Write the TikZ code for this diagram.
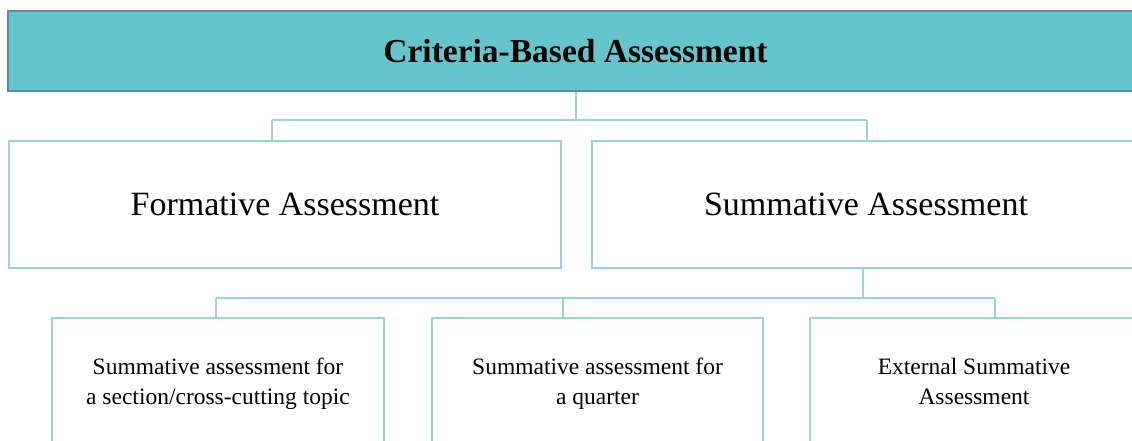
\documentclass[tikz,border=0pt]{standalone}
\usepackage{fontspec}
\setmainfont{Liberation Serif}
\definecolor{headfill}{HTML}{66C4CB}
\definecolor{headline}{HTML}{5A8CA6}
\definecolor{boxline}{HTML}{9CD3D8}
\begin{document}
\begin{tikzpicture}[x=1pt,y=-1pt,
  headbox/.style={draw=headline, line width=1.5pt, fill=headfill, minimum width=1135pt, minimum height=80pt, inner sep=0pt, font=\fontsize{33.5}{40}\selectfont\bfseries},
  midbox/.style={draw=boxline, line width=1.8pt, fill=white, minimum height=127pt, inner sep=0pt, font=\fontsize{34}{40}\selectfont},
  lowbox/.style={draw=boxline, line width=1.8pt, fill=white, minimum height=131pt, inner sep=0pt, align=center, font=\fontsize{23.5}{30}\selectfont},
  conn/.style={draw=boxline, line width=1.8pt}]
\useasboundingbox (0,0) rectangle (1132,441);
\clip (0,0) rectangle (1132,441);
\fill[white] (0,0) rectangle (1132,441);
% nodes
\node[headbox] (header) at (575.5,51) {Criteria-Based Assessment};
\node[midbox, minimum width=552pt] (form) at (285,204.5) {Formative Assessment};
\node[midbox, minimum width=548pt] (summ) at (866,204.5) {Summative Assessment};
\node[lowbox, minimum width=332pt] (low1) at (218,383.5) {\strut Summative assessment for\\\strut a section/cross-cutting topic};
\node[lowbox, minimum width=331pt] (low2) at (597.5,383.5) {\strut Summative assessment for\\\strut a quarter};
\node[lowbox, minimum width=328pt] (low3) at (974,383.5) {\strut External Summative\\\strut Assessment};
% upper connectors
\coordinate (j0) at (576,120);
\coordinate (t1) at (272,120);
\coordinate (t2) at (867,120);
\draw[conn] (header.south -| j0) -- (j0);
\draw[conn] (t1) -- (t2);
\draw[conn] (t1) -- (t1 |- form.north);
\draw[conn] (t2) -- (t2 |- summ.north);
% lower connectors
\coordinate (k0) at (863,298);
\coordinate (k1) at (216,298);
\coordinate (k2) at (563,298);
\coordinate (k3) at (995,298);
\draw[conn] (summ.south -| k0) -- (k0);
\draw[conn] (k1) -- (k3);
\draw[conn] (k1) -- (k1 |- low1.north);
\draw[conn] (k2) -- (k2 |- low2.north);
\draw[conn] (k3) -- (k3 |- low3.north);
\end{tikzpicture}
\end{document}
